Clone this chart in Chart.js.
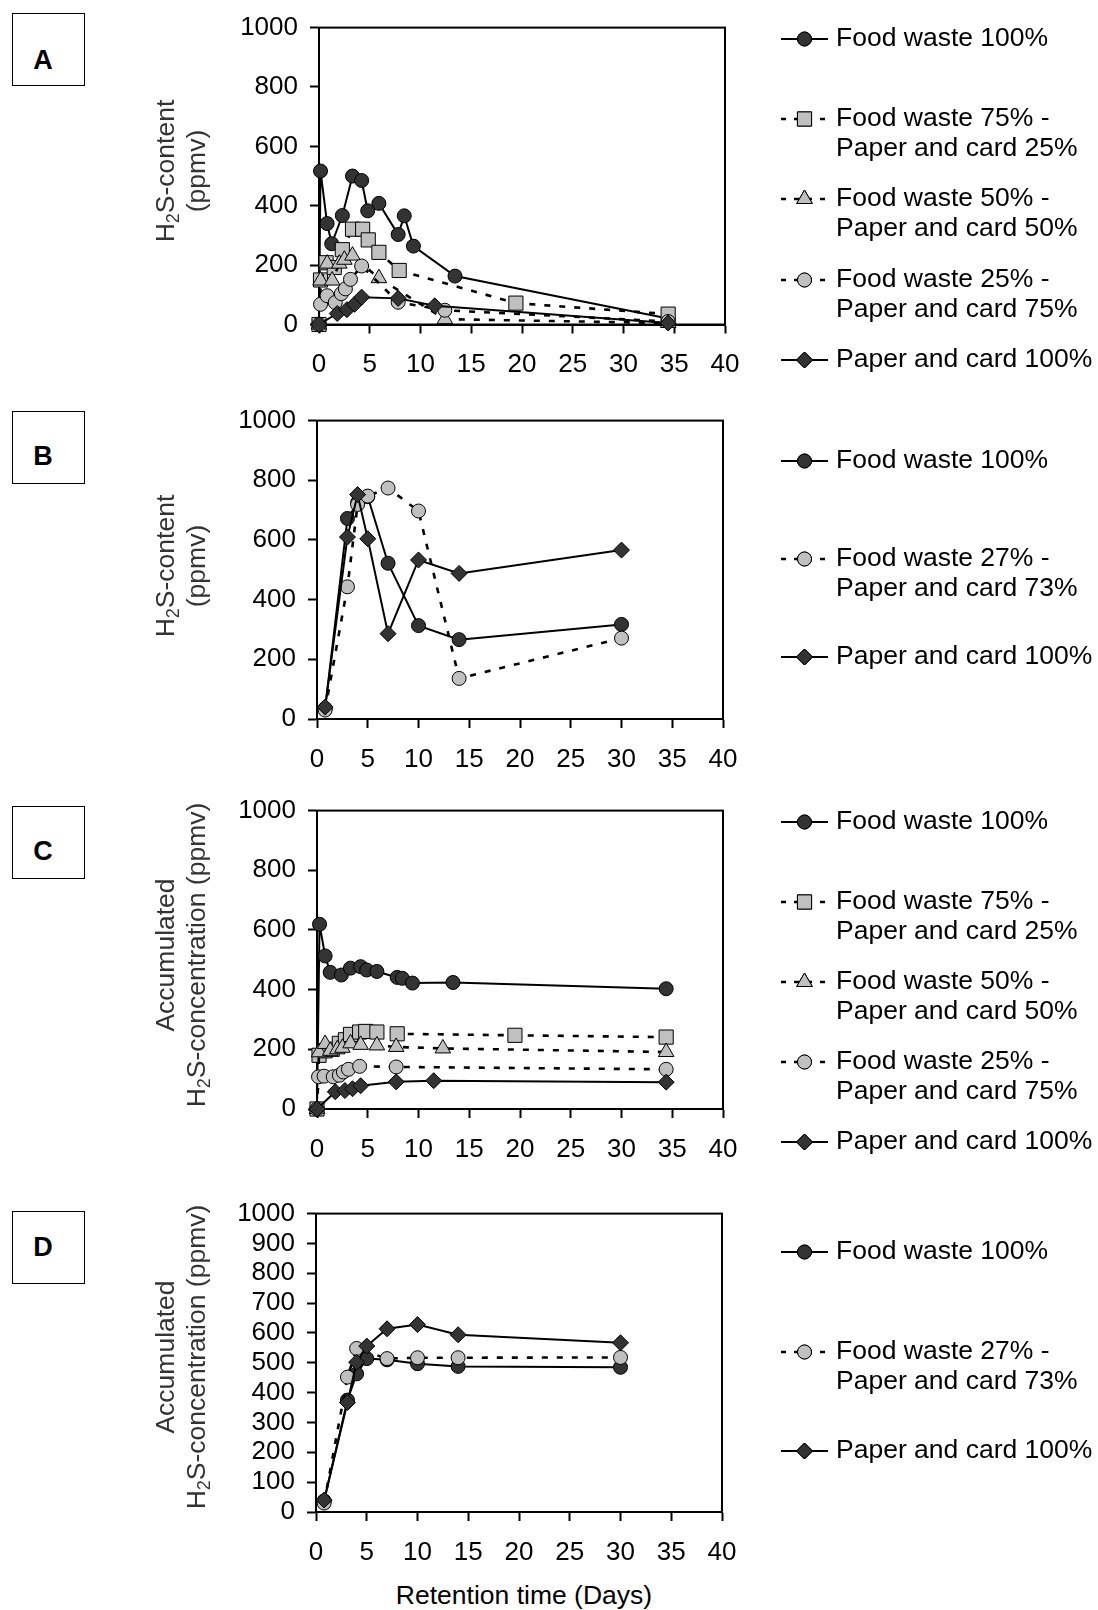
<!DOCTYPE html>
<html>
<head>
<meta charset="utf-8">
<script src="https://cdn.jsdelivr.net/npm/chart.js@4.4.1/dist/chart.umd.min.js"></script>
<style>
body{margin:0;background:#fff;width:1098px;height:1610px;position:relative;overflow:hidden;font-family:"Liberation Sans",Arial,sans-serif}
.box{position:absolute;left:12px;width:71px;height:71px;border:1.5px solid #000}
.box span{position:absolute;left:0;width:60px;text-align:center;font:bold 27px "Liberation Sans",Arial,sans-serif;line-height:30px}
canvas{position:absolute;left:0}
#xtitle{position:absolute;top:1580px;left:0;width:1048px;text-align:center;font-size:26.5px;line-height:30px}
</style>
</head>
<body>
<div class="box" style="top:13px"><span style="top:31px">A</span></div>
<div class="box" style="top:411px"><span style="top:29px">B</span></div>
<div class="box" style="top:806px"><span style="top:29px">C</span></div>
<div class="box" style="top:1211px"><span style="top:20px">D</span></div>
<canvas id="cA" width="1098" height="390" style="top:0px"></canvas>
<canvas id="cB" width="1098" height="390" style="top:393px"></canvas>
<canvas id="cC" width="1098" height="390" style="top:783px"></canvas>
<canvas id="cD" width="1098" height="390" style="top:1186px"></canvas>
<div id="xtitle">Retention time (Days)</div>
<script>
// ---- panel A: H2S content ----
const aDaysFood100 = [0, 0.15, 0.8, 1.25, 2.3, 3.3, 4.2, 4.8, 5.9, 7.8, 8.4, 9.3, 13.4, 34.4];
const aFood100     = [0, 517, 340, 272, 367, 500, 485, 383, 408, 303, 366, 264, 163, 20];
const aDaysFood75  = [0, 0.15, 0.7, 1.5, 2.3, 3.3, 4.3, 4.85, 5.9, 7.9, 19.4, 34.4];
const aFood75      = [0, 150, 208, 192, 252, 321, 321, 285, 243, 182, 72, 35];
const aDaysFood50  = [0, 0.15, 0.8, 1.3, 2.0, 2.5, 3.3, 5.9, 12.4, 34.4];
const aFood50      = [0, 148, 205, 148, 205, 218, 232, 156, 18, 5];
const aDaysFood25  = [0, 0.15, 0.8, 1.6, 2.2, 2.6, 3.1, 4.2, 7.8, 12.4, 34.4];
const aFood25      = [0, 68, 97, 74, 104, 120, 152, 197, 75, 48, 10];
const aDaysPaper   = [0, 1.8, 2.75, 3.5, 4.2, 7.8, 11.4, 34.4];
const aPaper100    = [0, 37, 50, 68, 92, 88, 63, 5];

// ---- panel B: H2S content ----
const bDays        = [0.8, 3, 4, 5, 7, 10, 14, 30];
const bFood100     = [35, 672, 725, 745, 522, 313, 266, 317];
const bFood27      = [30, 443, 719, 747, 774, 697, 136, 271];
const bPaper100    = [40, 610, 752, 604, 286, 533, 488, 566];

// ---- panel C: accumulated H2S ----
const cDaysFood100 = [0, 0.25, 0.8, 1.3, 2.4, 3.3, 4.3, 4.9, 5.9, 7.9, 8.4, 9.4, 13.4, 34.4];
const cFood100     = [0, 619, 513, 458, 449, 472, 477, 466, 461, 441, 438, 422, 424, 403];
const cDaysFood75  = [0, 0.2, 0.8, 1.5, 2.2, 2.8, 3.3, 4.2, 4.8, 5.9, 7.9, 19.5, 34.4];
const cFood75      = [0, 180, 195, 200, 220, 232, 250, 258, 260, 258, 252, 247, 241];
const cDaysFood50  = [0, 0.2, 0.8, 1.3, 2.0, 2.5, 3.3, 4.3, 5.9, 7.8, 12.4, 34.4];
const cFood50      = [0, 190, 218, 195, 200, 205, 220, 215, 213, 208, 203, 191];
const cDaysFood25  = [0, 0.15, 0.7, 1.6, 2.2, 2.6, 3.1, 4.2, 7.8, 34.4];
const cFood25      = [0, 108, 110, 108, 113, 124, 133, 143, 141, 133];
const cDaysPaper   = [0, 1.8, 2.75, 3.5, 4.3, 7.8, 11.5, 34.4];
const cPaper100    = [0, 58, 62, 68, 78, 91, 95, 90];

// ---- panel D: accumulated H2S ----
const dDaysFood100 = [0.8, 3.1, 4, 5, 7, 10, 14, 30];
const dFood100     = [37, 375, 463, 514, 510, 497, 488, 485];
const dDaysFood27  = [0.8, 3.1, 4, 7, 10, 14, 30];
const dFood27      = [30, 452, 548, 514, 517, 517, 518];
const dDaysPaper   = [0.8, 3.1, 4, 5, 7, 10, 14, 30];
const dPaper100    = [40, 367, 502, 556, 614, 628, 594, 567];

const LABELS = {
  food100: ['Food waste 100%'],
  food75: ['Food waste 75% -', 'Paper and card 25%'],
  food50: ['Food waste 50% -', 'Paper and card 50%'],
  food25: ['Food waste 25% -', 'Paper and card 75%'],
  food27: ['Food waste 27% -', 'Paper and card 73%'],
  paper100: ['Paper and card 100%']
};

const FONT = '"Liberation Sans", Arial, sans-serif';
Chart.defaults.font.family = FONT;
Chart.defaults.font.size = 26;
Chart.defaults.color = '#000';

const DARK = '#333333', LIGHT = '#c0c0c0';
const DASH = [6, 9];
const STYLE = {
  food100: {ps: 'circle', r: 7, fill: DARK, dash: []},
  food75: {ps: 'rect', r: 10, fill: LIGHT, dash: DASH},
  food50: {ps: 'triangle', r: 9, fill: LIGHT, dash: DASH},
  food25: {ps: 'circle', r: 7, fill: LIGHT, dash: DASH},
  food27: {ps: 'circle', r: 7, fill: LIGHT, dash: DASH},
  paper100: {ps: 'rectRot', r: 8, fill: DARK, dash: []}
};

const H2S_CONTENT = [[['H', 0], ['2', 1], ['S-content', 0]], [['(ppmv)', 0]]];
const H2S_ACCUM = [[['Accumulated', 0]], [['H', 0], ['2', 1], ['S-concentration (ppmv)', 0]]];

const PANELS = [
  {id: 'cA', top: 0, plot: {l: 319, r: 725, t: 26, b: 324.5}, yStep: 200,
   series: [['food100', aDaysFood100, aFood100], ['food75', aDaysFood75, aFood75], ['food50', aDaysFood50, aFood50],
            ['food25', aDaysFood25, aFood25], ['paper100', aDaysPaper, aPaper100]],
   legendY: [39, 119, 199, 280, 360], title: H2S_CONTENT, titleY: 171},
  {id: 'cB', top: 393, plot: {l: 317, r: 723, t: 419, b: 719}, yStep: 200,
   series: [['food100', bDays, bFood100], ['food27', bDays, bFood27], ['paper100', bDays, bPaper100]],
   legendY: [461, 559, 657], title: H2S_CONTENT, titleY: 566},
  {id: 'cC', top: 783, plot: {l: 317, r: 723, t: 809, b: 1109}, yStep: 200,
   series: [['food100', cDaysFood100, cFood100], ['food75', cDaysFood75, cFood75], ['food50', cDaysFood50, cFood50],
            ['food25', cDaysFood25, cFood25], ['paper100', cDaysPaper, cPaper100]],
   legendY: [822, 902, 982, 1062, 1142], title: H2S_ACCUM, titleY: 955},
  {id: 'cD', top: 1186, plot: {l: 316, r: 722, t: 1212, b: 1512}, yStep: 100,
   series: [['food100', dDaysFood100, dFood100], ['food27', dDaysFood27, dFood27], ['paper100', dDaysPaper, dPaper100]],
   legendY: [1252, 1352, 1451], title: H2S_ACCUM, titleY: 1357}
];

const CANVAS_H = 390, YAXIS_W = 100, XAXIS_H = 56;

const framePlugin = {
  id: 'frame',
  beforeDatasetsDraw(chart) {
    const a = chart.chartArea, ctx = chart.ctx;
    ctx.save();
    ctx.strokeStyle = '#000';
    ctx.lineWidth = 2;
    ctx.strokeRect(a.left, a.top, a.right - a.left, a.bottom - a.top);
    ctx.restore();
  }
};

function drawRich(ctx, parts, x, y) {
  // rotated title, centred at x,y, with subscripts
  ctx.save();
  ctx.translate(x, y);
  ctx.rotate(-Math.PI / 2);
  ctx.textBaseline = 'middle';
  ctx.textAlign = 'left';
  const fonts = ['26.5px ' + FONT, '18px ' + FONT];
  let total = 0;
  parts.forEach(p => { ctx.font = fonts[p[1]]; total += ctx.measureText(p[0]).width; });
  let cx = -total / 2;
  parts.forEach(p => {
    ctx.font = fonts[p[1]];
    ctx.fillText(p[0], cx, p[1] ? 7 : 0);
    cx += ctx.measureText(p[0]).width;
  });
  ctx.restore();
}

const sidePlugin = {
  id: 'side',
  afterDraw(chart) {
    const cfg = chart.options.plugins.side;
    const ctx = chart.ctx;
    ctx.save();
    // y titles
    drawRich(ctx, cfg.title[0], 167, cfg.titleY - cfg.top);
    drawRich(ctx, cfg.title[1], 198, cfg.titleY - cfg.top);
    // legend
    cfg.series.forEach((s, i) => {
      const st = STYLE[s[0]];
      const y = cfg.legendY[i] - cfg.top;
      ctx.strokeStyle = '#000';
      ctx.lineWidth = st.dash.length ? 2.6 : 2;
      ctx.setLineDash(st.dash.length ? [5, 8] : []);
      ctx.beginPath();
      ctx.moveTo(781, y);
      ctx.lineTo(828, y);
      ctx.stroke();
      ctx.setLineDash([]);
      ctx.fillStyle = st.fill;
      ctx.lineWidth = 1;
      Chart.helpers.drawPoint(ctx, {pointStyle: st.ps, radius: st.r, rotation: 0, borderWidth: 1}, 804.5, y);
      ctx.fill();
      ctx.stroke();
      ctx.fillStyle = '#000';
      ctx.font = '26.5px ' + FONT;
      ctx.textBaseline = 'middle';
      ctx.textAlign = 'left';
      LABELS[s[0]].forEach((line, k) => ctx.fillText(line, 836, y + k * 30));
    });
    ctx.restore();
  }
};

PANELS.forEach(p => {
  const n = p.series.length;
  const datasets = p.series.map((s, i) => {
    const st = STYLE[s[0]];
    return {
      label: LABELS[s[0]].join(' '),
      data: s[1].map((x, k) => ({x: x, y: s[2][k]})),
      borderColor: '#000',
      borderWidth: st.dash.length ? 2.6 : 2,
      borderDash: st.dash,
      pointStyle: st.ps,
      pointRadius: st.r,
      pointBackgroundColor: st.fill,
      pointBorderColor: '#000',
      pointBorderWidth: 1,
      tension: 0,
      clip: false,
      order: n - i
    };
  });
  new Chart(document.getElementById(p.id), {
    type: 'line',
    data: {datasets: datasets},
    plugins: [framePlugin, sidePlugin],
    options: {
      responsive: false,
      animation: false,
      events: [],
      layout: {padding: {left: p.plot.l - YAXIS_W, right: 1098 - p.plot.r, top: p.plot.t - p.top,
                         bottom: p.top + CANVAS_H - p.plot.b - XAXIS_H}},
      plugins: {legend: {display: false}, tooltip: {enabled: false},
                side: {series: p.series, legendY: p.legendY, title: p.title, titleY: p.titleY, top: p.top}},
      scales: {
        x: {type: 'linear', min: 0, max: 40, afterFit: s => { s.height = XAXIS_H; },
            ticks: {stepSize: 5, padding: 16, maxRotation: 0, autoSkip: false, callback: v => String(v)},
            grid: {drawOnChartArea: false, tickLength: 9, tickWidth: 2, tickColor: '#000'},
            border: {color: '#000', width: 2}},
        y: {min: 0, max: 1000, afterFit: s => { s.width = YAXIS_W; },
            ticks: {stepSize: p.yStep, padding: 12, autoSkip: false, callback: v => String(v)},
            grid: {drawOnChartArea: false, tickLength: 9, tickWidth: 2, tickColor: '#000'},
            border: {color: '#000', width: 2}}
      }
    }
  });
});
</script>
</body>
</html>
